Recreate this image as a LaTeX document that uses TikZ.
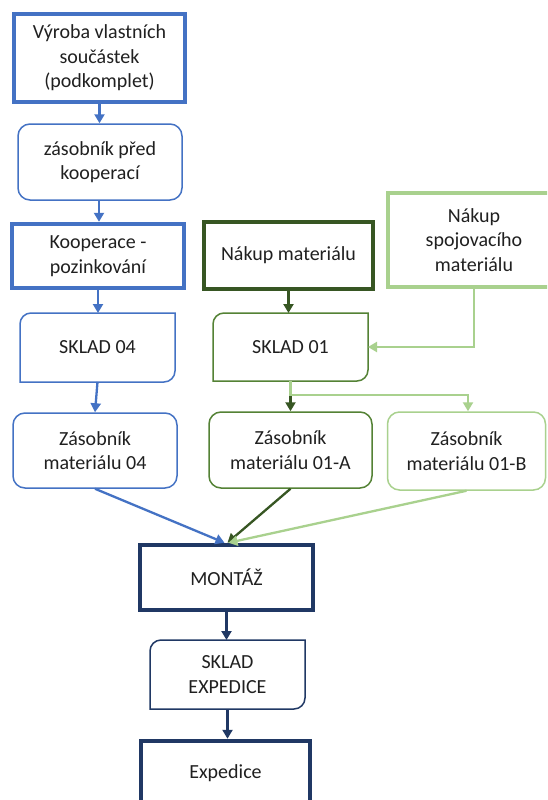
\documentclass[tikz,border=0pt]{standalone}
\usepackage{fontspec}
\setmainfont{Carlito}
\usetikzlibrary{arrows.meta}
\definecolor{cblue}{HTML}{4472C4}
\definecolor{cnavy}{HTML}{203864}
\definecolor{cdkgreen}{HTML}{375623}
\definecolor{cmdgreen}{HTML}{548235}
\definecolor{cltgreen}{HTML}{A9D18E}
\definecolor{ctext}{HTML}{202020}
% frame with rounded top-left and bottom-right corners only
\newcommand\diagframe[2]{%
  \draw[#2] (#1.south west) -- ([yshift=-11pt]#1.north west)
    arc[start angle=180,end angle=90,radius=11pt] -- (#1.north east)
    -- ([yshift=11pt]#1.south east)
    arc[start angle=0,end angle=-90,radius=11pt] -- cycle;}
\begin{document}
\begin{tikzpicture}[x=1pt,y=1pt,
  base/.style={align=center, text=ctext, font=\fontsize{20}{24.4}\selectfont, inner sep=0pt},
  thickbox/.style={base, draw, line width=4.5pt, rectangle},
  roundbox/.style={base, draw, line width=1.5pt, rounded corners=12pt},
  diagnode/.style={base, outer sep=0pt},
  diagline/.style={line width=1.5pt},
  link/.style={line width=2.3pt, -{Triangle[length=9pt,width=10pt]}}]
\path[use as bounding box, clip] (0,0) rectangle (547,-800);
\fill[white] (0,0) rectangle (547,-800);

% left column: own parts
\node[thickbox, draw=cblue, minimum width=171pt, minimum height=88pt] (vyroba) at (99.5,-58) {Výroba vlastních\\součástek\\(podkomplet)};
\node[roundbox, draw=cblue, minimum width=164pt, minimum height=76pt] (zpk) at (100,-162) {zásobník před\\kooperací};
\node[thickbox, draw=cblue, minimum width=172pt, minimum height=64pt] (koop) at (98,-256) {Kooperace -\\pozinkování};
\node[diagnode, minimum width=155pt, minimum height=69pt] (sk04) at (97.5,-347.5) {SKLAD 04};
\diagframe{sk04}{diagline, cblue}
\node[roundbox, draw=cblue, minimum width=164pt, minimum height=75pt] (z04) at (95,-450.5) {Zásobník\\materiálu 04};

% middle and right columns: purchased material
\node[thickbox, draw=cdkgreen, minimum width=169pt, minimum height=67pt] (nakup) at (288.5,-255.5) {Nákup materiálu};
\node[thickbox, draw=cltgreen, minimum width=172pt, minimum height=94pt] (spoj) at (474,-240) {Nákup\\spojovacího\\materiálu};
\node[diagnode, minimum width=155pt, minimum height=68pt] (sk01) at (290.5,-347) {SKLAD 01};
\diagframe{sk01}{diagline, cmdgreen}
\node[roundbox, draw=cmdgreen, minimum width=163pt, minimum height=76pt] (z01a) at (290.5,-450) {Zásobník\\materiálu 01-A};
\node[roundbox, draw=cltgreen, minimum width=158pt, minimum height=78pt] (z01b) at (466.5,-451) {Zásobník\\materiálu 01-B};

% assembly and dispatch
\node[thickbox, draw=cnavy, minimum width=173pt, minimum height=65pt] (mont) at (226.5,-577.5) {MONTÁŽ};
\node[diagnode, minimum width=155pt, minimum height=69pt] (skexp) at (227.5,-674.5) {SKLAD\\EXPEDICE};
\diagframe{skexp}{diagline, cnavy}
\node[thickbox, draw=cnavy, minimum width=169pt, minimum height=64pt] (exp) at (225.5,-773) {Expedice};

% connectors
\draw[link, cblue] (vyroba.south) -- (vyroba.south |- zpk.north);
\draw[link, cblue] ([xshift=-1pt]zpk.south) -- ([xshift=-1pt]zpk.south |- koop.north);
\draw[link, cblue] (koop.south) -- (koop.south |- sk04.north);
\draw[link, cblue] (sk04.south) -- (z04.north);
\draw[link, cblue] (z04.south) -- ([xshift=-2pt]mont.north);
\draw[link, cdkgreen] (nakup.south) -- (nakup.south |- sk01.north);
\draw[link, cltgreen] (spoj.south) |- (sk01.east);
\draw[link, cdkgreen] (sk01.south) -- (z01a.north);
\coordinate (split) at ([yshift=-14pt]sk01.south);
\draw[link, cltgreen] (sk01.south) -- (split) -| ([xshift=1.5pt]z01b.north);
\draw[link, cdkgreen] (z01a.south) -- ([xshift=1pt]mont.north);
\draw[link, cltgreen] (z01b.south) -- ([xshift=2pt]mont.north);
\draw[link, cnavy] (mont.south) -- (mont.south |- skexp.north);
\draw[link, cnavy] (skexp.south) -- (skexp.south |- exp.north);
\end{tikzpicture}
\end{document}
